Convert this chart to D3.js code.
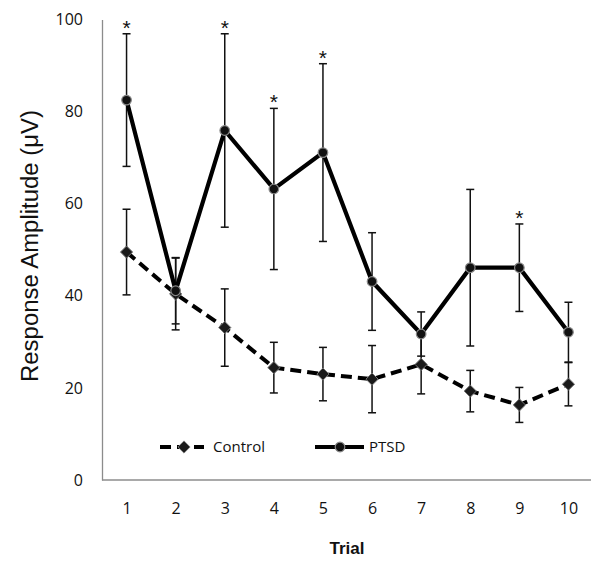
<!DOCTYPE html>
<html>
<head>
<meta charset="utf-8">
<script src="https://cdn.jsdelivr.net/npm/d3@7"></script>
<style>
  html, body { margin: 0; padding: 0; background: #fff; }
  svg { display: block; }
</style>
</head>
<body>
<script>
const categories = ["1","2","3","4","5","6","7","8","9","10"];
const controlValues = [49.5, 40.4, 33.1, 24.4, 23.0, 21.9, 25.1, 19.3, 16.3, 20.8];
const controlErrors = [9.3, 7.8, 8.4, 5.5, 5.8, 7.3, 6.4, 4.5, 3.8, 4.7];
const ptsdValues = [82.5, 41.1, 75.9, 63.2, 71.1, 43.1, 31.7, 46.1, 46.1, 32.1];
const ptsdErrors = [14.4, 7.2, 21.0, 17.5, 19.3, 10.6, 4.8, 17.0, 9.5, 6.5];
const significantTrials = ["1","3","4","5","9"];
const yTicks = [0, 20, 40, 60, 80, 100];
const seriesNames = ["Control", "PTSD"];

const W = 600, H = 561;
const svg = d3.select("body").append("svg").attr("width", W).attr("height", H);

const x = d3.scalePoint().domain(categories).range([102, 593]).padding(0.5);
const y = d3.scaleLinear().domain([0, 100]).range([480, 19.5]);

const tickFont = "'Open Sans', 'Noto Sans', sans-serif";

// Y axis
const yAxis = svg.append("g").attr("transform", "translate(102,0)")
  .call(d3.axisLeft(y).tickValues(yTicks).tickSize(0).tickPadding(19));
yAxis.select(".domain").attr("stroke", "#8c8c8c").attr("stroke-width", 1.3);
yAxis.selectAll("text").attr("font-family", tickFont).attr("font-size", 16).attr("fill", "#111");

// X axis
const xAxis = svg.append("g").attr("transform", "translate(0,480)")
  .call(d3.axisBottom(x).tickSize(0).tickPadding(23));
xAxis.select(".domain").attr("stroke", "#8c8c8c").attr("stroke-width", 1.3)
  .attr("d", "M102,0H591");
xAxis.selectAll("text").attr("font-family", tickFont).attr("font-size", 16).attr("fill", "#111");

// Axis titles
svg.append("text")
  .attr("transform", `translate(38,246) rotate(-90)`)
  .attr("text-anchor", "middle")
  .attr("font-family", "'Liberation Sans', Arial, sans-serif")
  .attr("font-size", 23)
  .attr("textLength", 272)
  .attr("lengthAdjust", "spacingAndGlyphs")
  .attr("fill", "#111")
  .text("Response Amplitude (μV)");

svg.append("text")
  .attr("x", 347).attr("y", 554)
  .attr("text-anchor", "middle")
  .attr("font-family", "'Liberation Sans', Arial, sans-serif")
  .attr("font-weight", "bold")
  .attr("font-size", 17)
  .attr("fill", "#111")
  .text("Trial");

function errorBars(vals, errs) {
  const g = svg.append("g").attr("stroke", "#111").attr("stroke-width", 1.5);
  categories.forEach((c, i) => {
    const cx = x(c), top = y(vals[i] + errs[i]), bot = y(vals[i] - errs[i]);
    g.append("line").attr("x1", cx).attr("x2", cx).attr("y1", top).attr("y2", bot);
    g.append("line").attr("x1", cx - 4).attr("x2", cx + 4).attr("y1", top).attr("y2", top);
    g.append("line").attr("x1", cx - 4).attr("x2", cx + 4).attr("y1", bot).attr("y2", bot);
  });
}
errorBars(controlValues, controlErrors);
errorBars(ptsdValues, ptsdErrors);

const line = d3.line().x((d, i) => x(categories[i])).y(d => y(d));

// Control line
svg.append("path").datum(controlValues)
  .attr("d", line).attr("fill", "none").attr("stroke", "#000")
  .attr("stroke-width", 4).attr("stroke-dasharray", "11,6");

// PTSD line
svg.append("path").datum(ptsdValues)
  .attr("d", line).attr("fill", "none").attr("stroke", "#000")
  .attr("stroke-width", 4.2);

const diamond = d3.symbol().type(d3.symbolDiamond2).size(95);

svg.append("g").selectAll("path").data(controlValues).join("path")
  .attr("d", diamond)
  .attr("transform", (d, i) => `translate(${x(categories[i])},${y(d)})`)
  .attr("fill", "#1a1a1a").attr("stroke", "#777").attr("stroke-width", 1);

svg.append("g").selectAll("circle").data(ptsdValues).join("circle")
  .attr("cx", (d, i) => x(categories[i])).attr("cy", d => y(d)).attr("r", 4.8)
  .attr("fill", "#111").attr("stroke", "#888").attr("stroke-width", 1.2);

// Significance stars
svg.append("g").selectAll("text").data(significantTrials).join("text")
  .attr("x", d => x(d))
  .attr("y", d => { const i = categories.indexOf(d); return y(ptsdValues[i] + ptsdErrors[i]) + 1; })
  .attr("text-anchor", "middle")
  .attr("font-family", "'Liberation Sans', Arial, sans-serif")
  .attr("font-size", 21)
  .attr("fill", "#111")
  .text("*");

// Legend
const legY = 447;
const lg = svg.append("g");
lg.append("line").attr("x1", 160).attr("x2", 204).attr("y1", legY).attr("y2", legY)
  .attr("stroke", "#000").attr("stroke-width", 4).attr("stroke-dasharray", "11,6");
lg.append("path").attr("d", diamond).attr("transform", `translate(184,${legY})`)
  .attr("fill", "#1a1a1a").attr("stroke", "#777").attr("stroke-width", 1);
lg.append("text").attr("x", 213).attr("y", legY + 5)
  .attr("font-family", tickFont).attr("font-size", 15).attr("fill", "#111").text(seriesNames[0]);

lg.append("line").attr("x1", 315).attr("x2", 364).attr("y1", legY).attr("y2", legY)
  .attr("stroke", "#000").attr("stroke-width", 4.2);
lg.append("circle").attr("cx", 340).attr("cy", legY).attr("r", 4.8)
  .attr("fill", "#111").attr("stroke", "#888").attr("stroke-width", 1.2);
lg.append("text").attr("x", 369).attr("y", legY + 5)
  .attr("font-family", tickFont).attr("font-size", 15).attr("fill", "#111").text(seriesNames[1]);
</script>
</body>
</html>
